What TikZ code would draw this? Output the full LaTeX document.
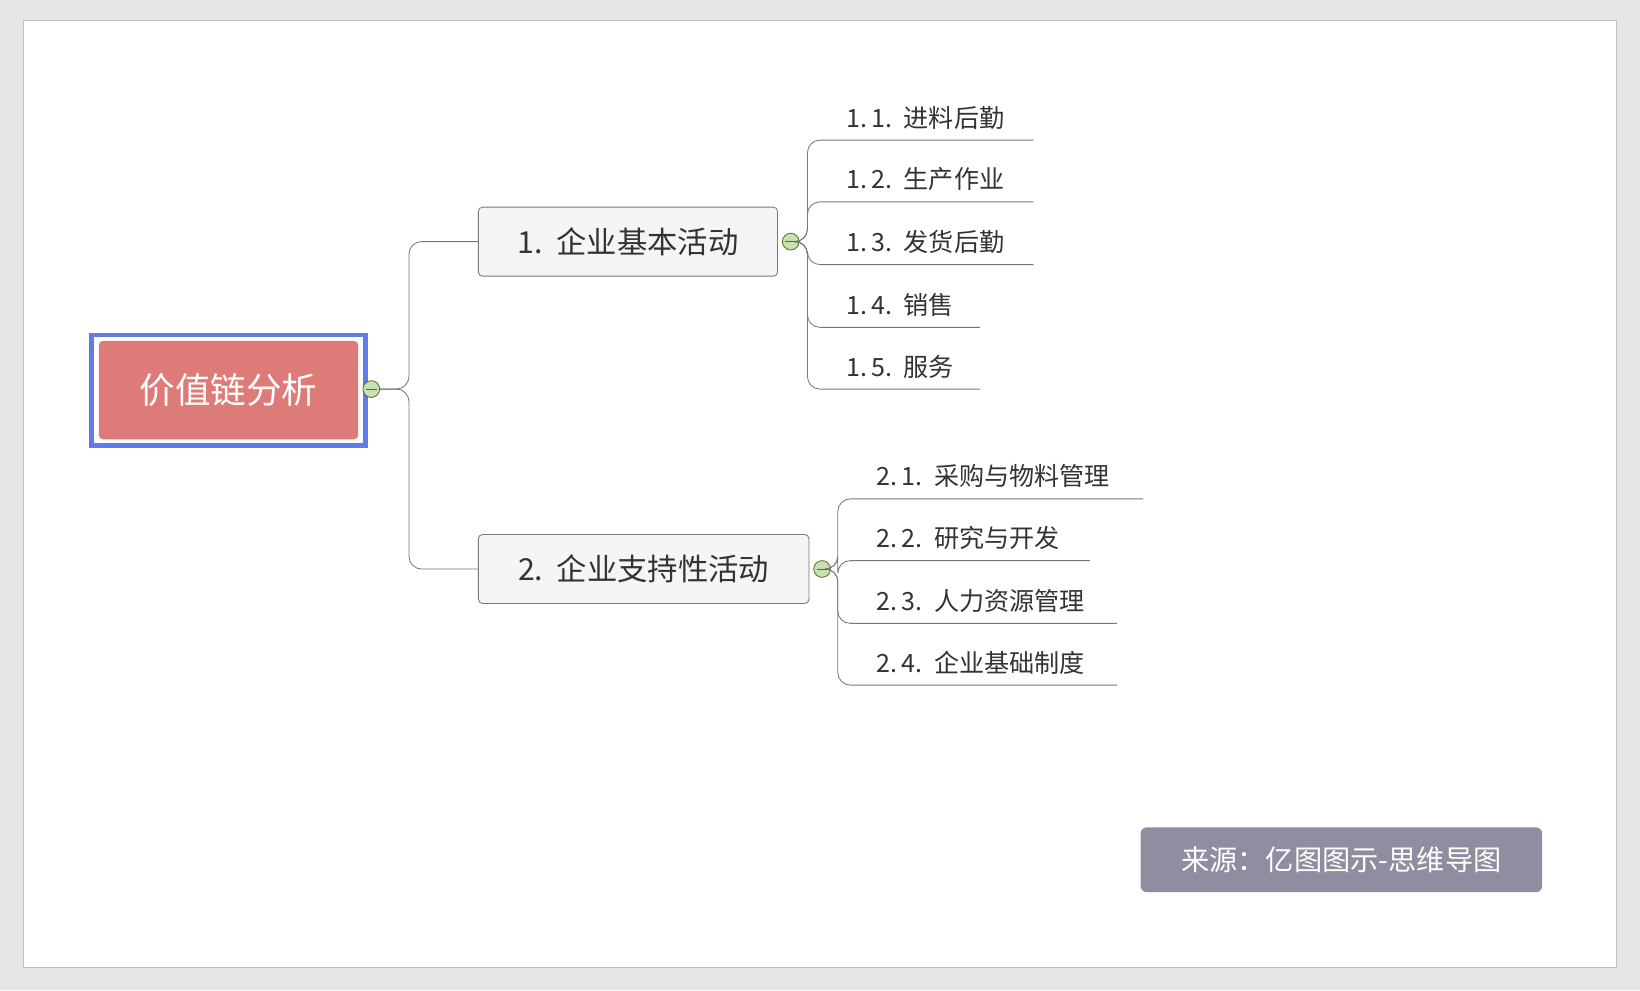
\documentclass[tikz,border=0pt]{standalone}
\usepackage{fontspec}
\setmainfont{Noto Sans CJK SC}
\usetikzlibrary{positioning}
\definecolor{rootred}{RGB}{220,123,120}
\definecolor{rootblue}{RGB}{96,124,232}
\definecolor{boxgray}{RGB}{245,245,245}
\definecolor{linegray}{RGB}{120,120,120}
\definecolor{srcgray}{RGB}{142,142,160}
\definecolor{knobgreen}{RGB}{200,225,180}
\begin{document}
\begin{tikzpicture}[x=0.5pt, y=-0.5pt,
        topic/.style={draw=linegray, fill=boxgray, rounded corners=2pt, font=\fontsize{14.5}{16}\selectfont, text=black!80, anchor=west, minimum height=33pt, inner xsep=18pt},
        sub/.style={anchor=south west, font=\fontsize{12}{14}\selectfont, text=black!80, inner sep=3pt, inner ysep=5pt},
        knob/.style={circle, draw=olive!70!black, fill=knobgreen, minimum size=8pt, inner sep=0pt},
        wire/.style={draw=linegray, rounded corners=6pt}]
      \fill[black!10] (0,0) rectangle (1568,947);
      \draw[black!25, fill=white] (22,20) rectangle (1545,925);
      % root
      \node[draw=rootblue, line width=2pt, minimum width=131pt, minimum height=53pt] (frame) at (218.5,373) {};
      \node[fill=rootred, rounded corners=2pt, minimum width=124pt, minimum height=47pt, text=white, font=\fontsize{17}{19}\selectfont] (root) at (218.5,373) {价值链分析};
      \node[knob] (k0) at (355,372) {};
      % main topics
      \node[topic, minimum width=143pt] (t1) at (457,231) {1.\ \ 企业基本活动};
      \node[topic, minimum width=158pt] (t2) at (457,544) {2.\ \ 企业支持性活动};
      \node[knob] (k1) at (756,231) {};
      \node[knob] (k2) at (786,544) {};
      \draw[wire] (k0.east) -- (391,372) |- (t1.west);
      \draw[wire] (k0.east) -- (391,372) |- (t2.west);
      % subtopics of 1
      \foreach \n/\y/\e/\txt in {a/134/988/{1.\,1.\ \ 进料后勤}, b/193/988/{1.\,2.\ \ 生产作业}, c/253/988/{1.\,3.\ \ 发货后勤}, d/313/937/{1.\,4.\ \ 销售}, e/372/937/{1.\,5.\ \ 服务}}{
        \node[sub] (s1\n) at (803,\y) {\txt};
        \coordinate (u1\n) at (\e,\y);
        \draw[wire] (k1.east) -- (772,231) |- (u1\n);
      }
      % subtopics of 2
      \foreach \n/\y/\e/\txt in {a/477/1093/{2.\,1.\ \ 采购与物料管理}, b/536/1042/{2.\,2.\ \ 研究与开发}, c/596/1068/{2.\,3.\ \ 人力资源管理}, d/655/1068/{2.\,4.\ \ 企业基础制度}}{
        \node[sub] (s2\n) at (832,\y) {\txt};
        \coordinate (u2\n) at (\e,\y);
        \draw[wire] (k2.east) -- (801,544) |- (u2\n);
      }
      % source
      \node[fill=srcgray, rounded corners=3pt, minimum width=192pt, minimum height=31pt, text=white, font=\fontsize{13.5}{15}\selectfont] (src) at (1282.5,822) {来源：亿图图示-思维导图};
      \foreach \k in {k0,k1,k2}{\draw[olive!70!black] ([xshift=-2.5pt]\k.center) -- ([xshift=2.5pt]\k.center);}
\end{tikzpicture}
\end{document}
